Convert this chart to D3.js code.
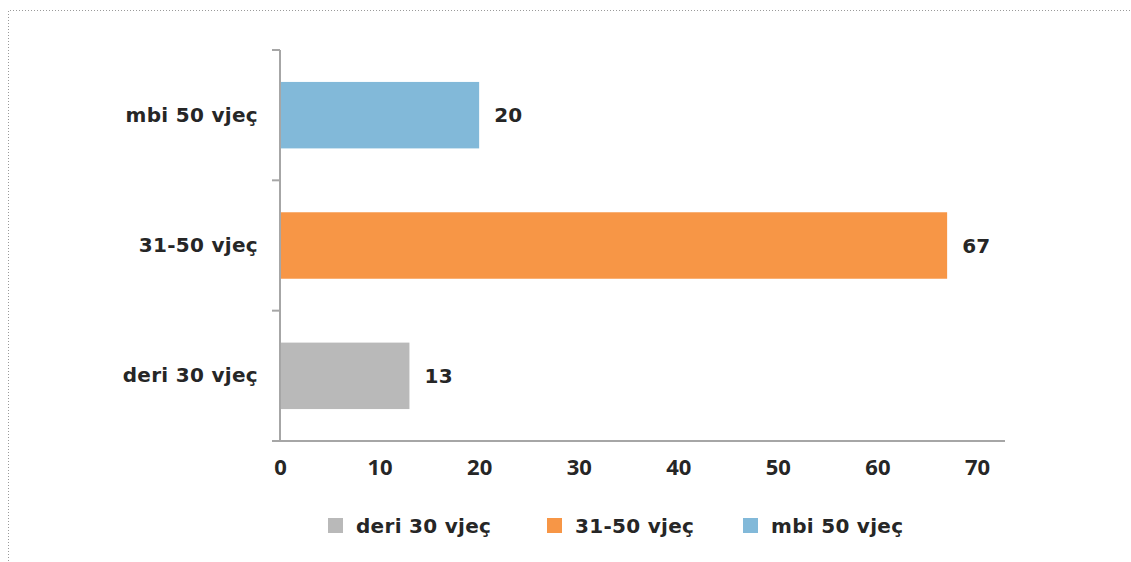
<!DOCTYPE html>
<html>
<head>
<meta charset="utf-8">
<script src="https://cdn.jsdelivr.net/npm/d3@7/dist/d3.min.js"></script>
<style>
  html, body { margin: 0; padding: 0; background: #fff; }
  svg { display: block; }
  .lbl { font-family: "DejaVu Sans", sans-serif; font-weight: bold; font-size: 20px; fill: #262626; letter-spacing: 0.3px; }
  .tick-lbl { font-family: "Open Sans", sans-serif; font-weight: 700; font-size: 22px; fill: #262626; }
</style>
</head>
<body>
<script>
// Age groups, top to bottom as drawn
const categories = ["mbi 50 vjeç", "31-50 vjeç", "deri 30 vjeç"];
const values = [20, 67, 13];
const colors = ["#82b9d9", "#f79646", "#b9b9b9"];
// Legend order
const legendItems = ["deri 30 vjeç", "31-50 vjeç", "mbi 50 vjeç"];
const xTicks = [0, 10, 20, 30, 40, 50, 60, 70];

const W = 1131, H = 562;
const svg = d3.select("body").append("svg").attr("width", W).attr("height", H);

// Dotted frame of the chart area
svg.append("path")
  .attr("d", `M8.5,${H + 5} L8.5,10.5 L${W + 5},10.5`)
  .attr("fill", "none")
  .attr("stroke", "#9a9a9a")
  .attr("stroke-width", 1)
  .attr("stroke-dasharray", "1,2");

const plotTop = 50, plotBottom = 441, axisX = 280;

const x = d3.scaleLinear().domain([0, 70]).range([axisX, 977]);
const y = d3.scaleBand().domain(categories).range([plotTop, plotBottom])
  .paddingInner(0.49).paddingOuter(0.245);

const colorOf = d3.scaleOrdinal().domain(categories).range(colors);

// Bars
svg.append("g").selectAll("rect")
  .data(categories)
  .join("rect")
  .attr("x", x(0))
  .attr("y", d => y(d))
  .attr("width", (d, i) => x(values[i]) - x(0))
  .attr("height", y.bandwidth())
  .attr("fill", d => colorOf(d));

// Value labels
svg.append("g").selectAll("text")
  .data(categories)
  .join("text")
  .attr("class", "lbl")
  .attr("x", (d, i) => x(values[i]) + 15)
  .attr("y", d => y(d) + y.bandwidth() / 2)
  .attr("dy", "0.36em")
  .text((d, i) => values[i]);

// Value axis (bottom)
const xAxis = svg.append("g")
  .attr("transform", `translate(0,${plotBottom})`)
  .call(d3.axisBottom(x).tickValues(xTicks).tickSize(0).tickPadding(18));
xAxis.select(".domain").remove();
xAxis.selectAll("text").attr("class", "tick-lbl").attr("fill", null)
  .attr("font-size", null).attr("font-family", null);
svg.append("line")
  .attr("x1", axisX - 8).attr("x2", x(70) + 28)
  .attr("y1", plotBottom).attr("y2", plotBottom)
  .attr("stroke", "#a6a6a6").attr("stroke-width", 2);

// Category axis (left)
const yAxis = svg.append("g")
  .attr("transform", `translate(${axisX},0)`)
  .call(d3.axisLeft(y).tickSize(0).tickPadding(22));
yAxis.select(".domain").remove();
yAxis.selectAll("text").attr("class", "lbl").attr("fill", null)
  .attr("font-size", null).attr("font-family", null);
svg.append("line")
  .attr("x1", axisX).attr("x2", axisX)
  .attr("y1", plotTop).attr("y2", plotBottom)
  .attr("stroke", "#a6a6a6").attr("stroke-width", 2);
// Tick marks between categories
const boundaries = categories.map(d => y(d) - y.step() * y.paddingInner() / 2);
svg.append("g").selectAll("line")
  .data([plotTop].concat(boundaries.slice(1)))
  .join("line")
  .attr("x1", axisX - 8).attr("x2", axisX)
  .attr("y1", d => d).attr("y2", d => d)
  .attr("stroke", "#a6a6a6").attr("stroke-width", 2);

// Legend
const legendX = [328, 547, 743];
const lg = svg.append("g").selectAll("g")
  .data(legendItems)
  .join("g")
  .attr("transform", (d, i) => `translate(${legendX[i]},518)`);
lg.append("rect").attr("width", 15).attr("height", 15).attr("fill", d => colorOf(d));
lg.append("text").attr("class", "lbl").attr("x", 28).attr("y", 7.5).attr("dy", "0.36em").text(d => d);
</script>
</body>
</html>
